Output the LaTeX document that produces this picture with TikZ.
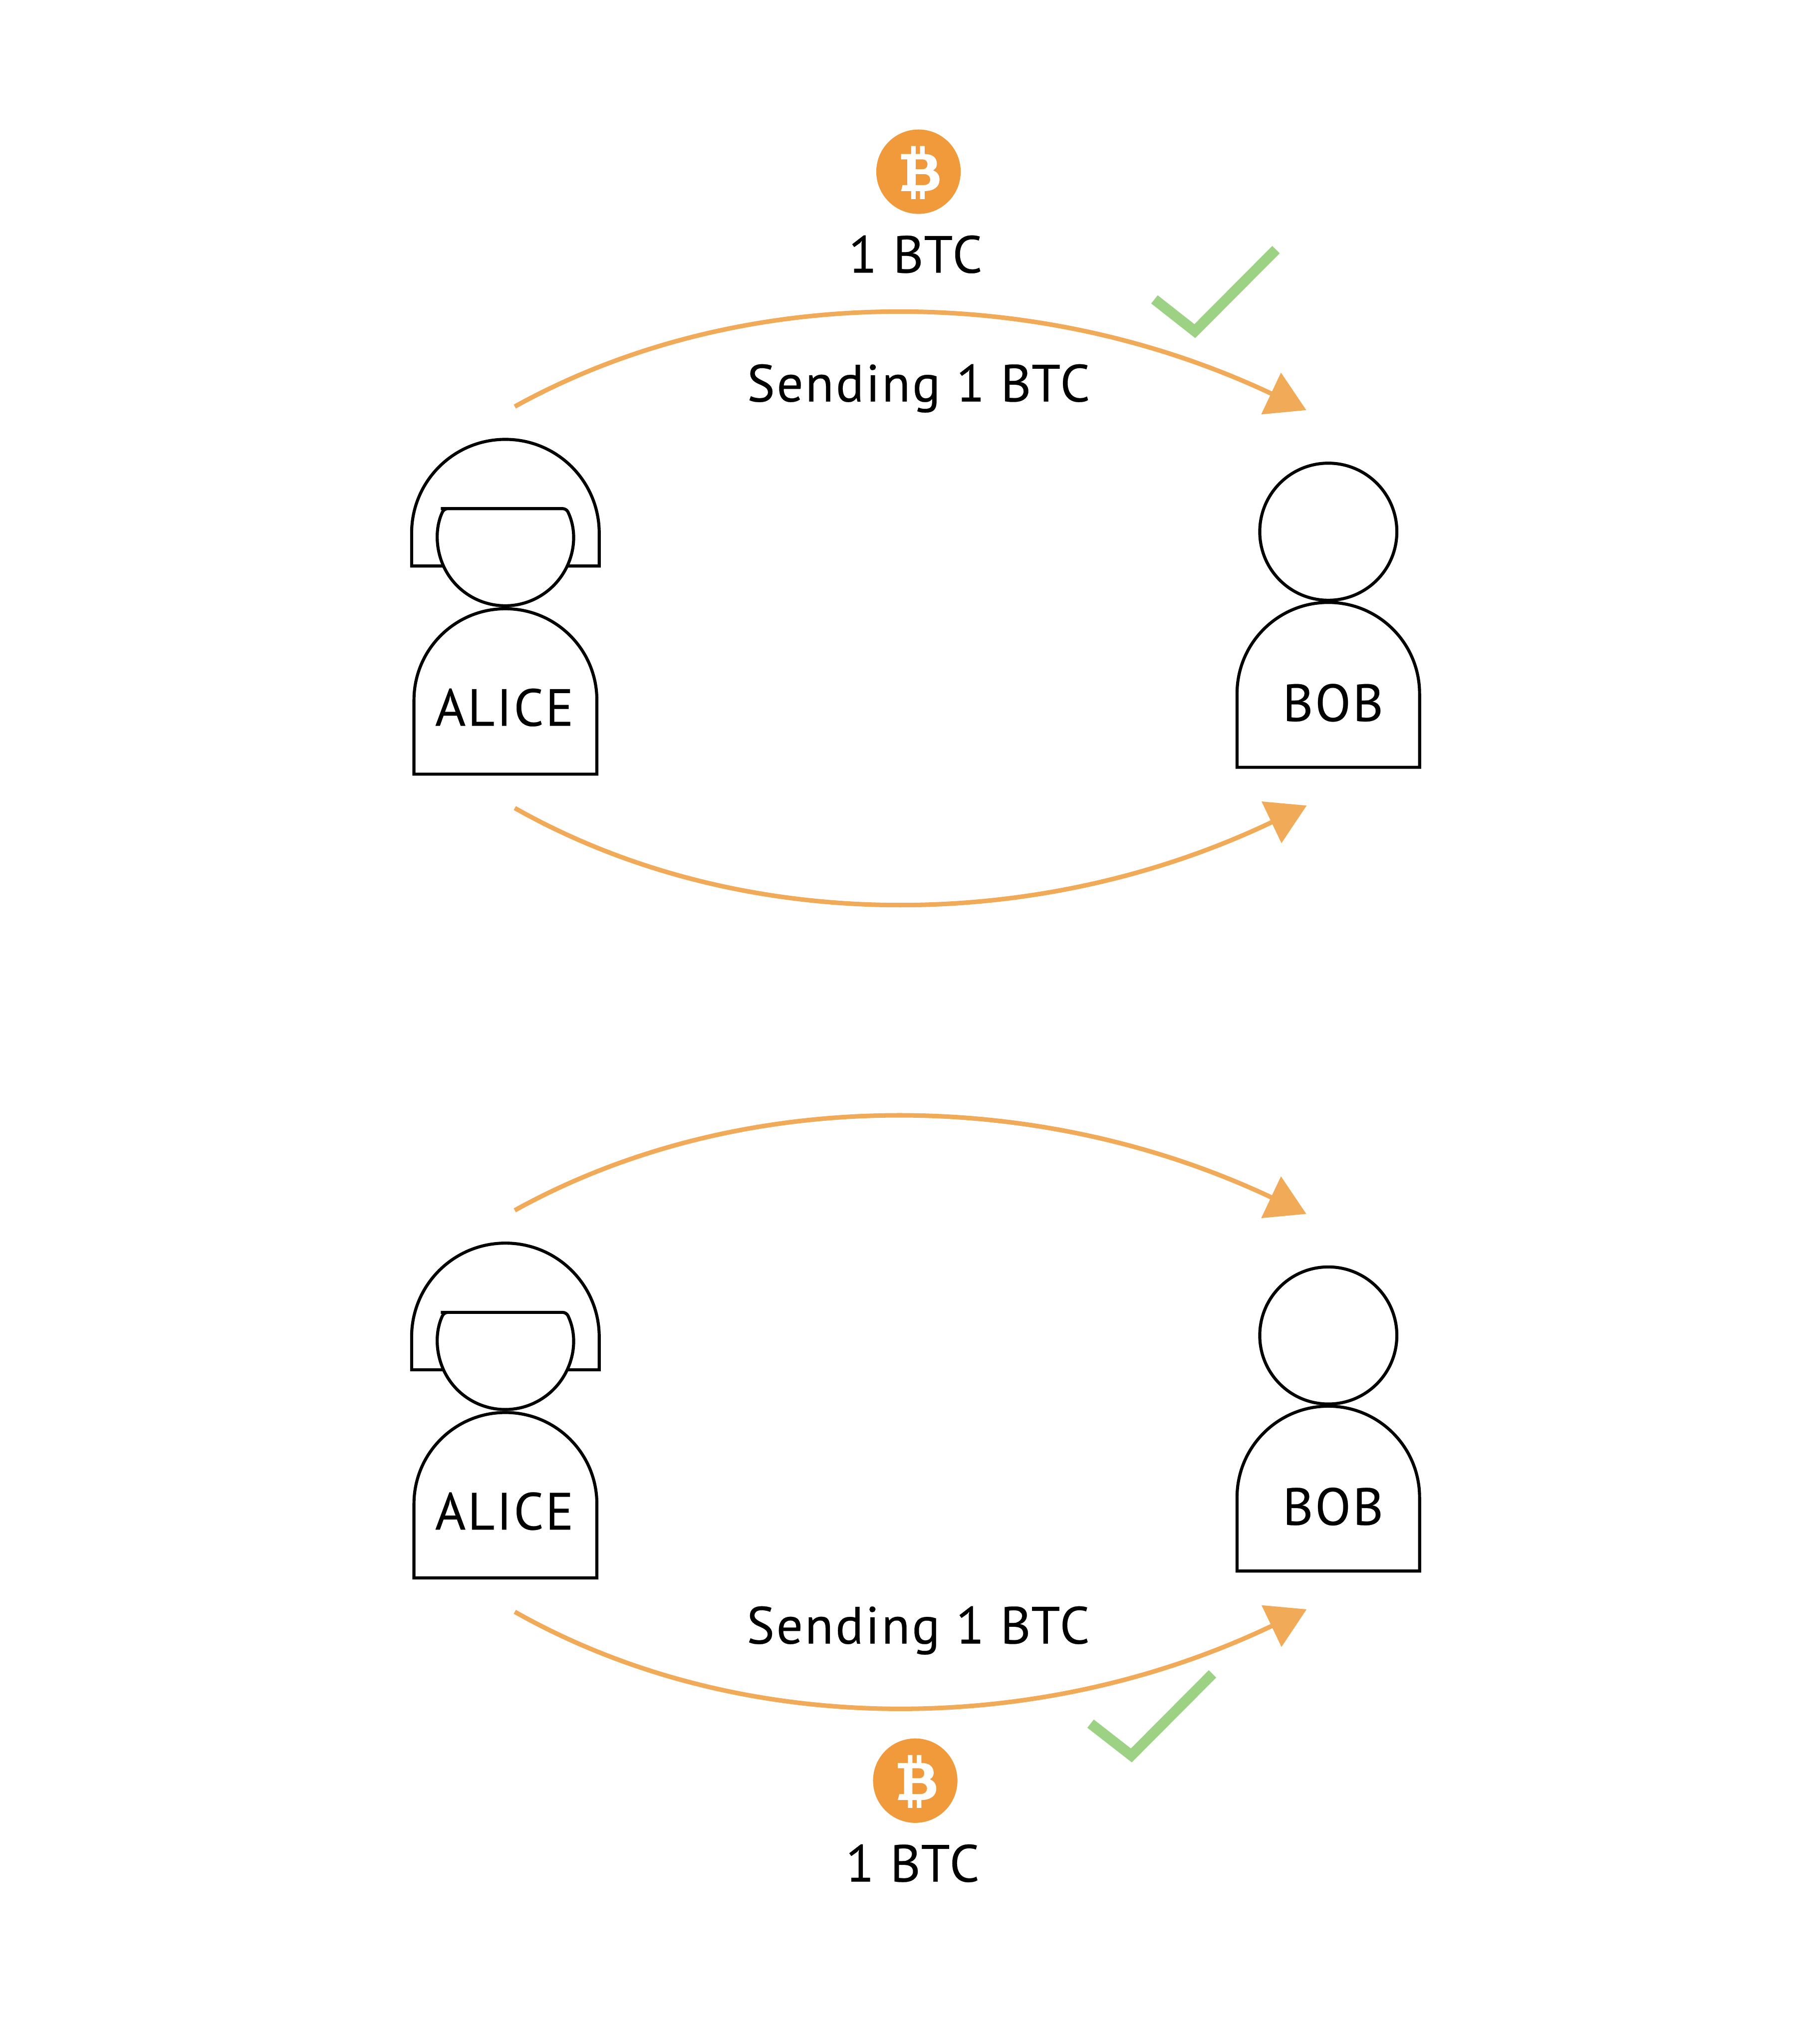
\documentclass[tikz,border=0pt]{standalone}
\usepackage{fontspec}
\setmainfont[LetterSpace=3.6,FakeBold=0.25]{PT Sans}
\usetikzlibrary{arrows.meta}
\definecolor{flowcol}{HTML}{F0AA58}
\definecolor{coincol}{HTML}{F09A3C}
\definecolor{tickcol}{HTML}{9DD285}
\tikzset{
    outline/.style={draw=black,line width=0.085cm,fill=white},
    flow/.style={draw=flowcol,line width=0.125cm,-{Triangle[length=1.08cm,width=1.25cm,fill=flowcol]}},
    tick/.style={draw=tickcol,line width=0.29cm,miter limit=10},
    btclabel/.style={font=\fontsize{41.3}{50}\selectfont,anchor=base,inner sep=0pt},
    alicefig/.pic={
        \draw[outline] (-2.535,0) -- (-2.535,2.05) arc[start angle=180,end angle=0,radius=2.535] -- (2.535,0) -- cycle;
        \draw[outline] (-2.6,5.77) -- (-2.6,6.68) arc[start angle=180,end angle=0,radius=2.6] -- (2.6,5.77) -- cycle;
        \draw[outline,rounded corners=0.1cm] (-1.69,7.36) -- (1.69,7.36) arc[start angle=25.6,end angle=-205.6,radius=1.88] -- cycle;
        \node[btclabel] (-name) at (-0.03,1.34) {ALICE};
    },
    bobfig/.pic={
        \draw[outline] (-2.53,0) -- (-2.53,2.04) arc[start angle=180,end angle=0,radius=2.53] -- (2.53,0) -- cycle;
        \draw[outline] (0,6.53) circle (1.9);
        \node[btclabel] (-name) at (0.13,1.28) {BOB};
    },
    coinfig/.pic={
        \fill[coincol] (0,0) circle (1.17);
        \fill[white,even odd rule]
            (-.483,.49) -- (-.203,.49) -- (-.203,.71) -- (-.08,.71) -- (-.08,.49) -- (.043,.49) -- (.043,.71) -- (.17,.71) -- (.17,.49)
            .. controls (.4,.49) and (.51,.38) .. (.51,.213)
            .. controls (.51,.13) and (.47,.08) .. (.403,.037)
            .. controls (.51,0) and (.583,-.09) .. (.583,-.22)
            .. controls (.583,-.42) and (.42,-.537) .. (.17,-.537)
            -- (.17,-.757) -- (.043,-.757) -- (.043,-.537) -- (-.08,-.537) -- (-.08,-.757) -- (-.203,-.757) -- (-.203,-.537)
            -- (-.483,-.537) -- (-.44,-.37) -- (-.31,-.37) -- (-.31,.343) -- (-.483,.343) -- cycle
            (-.08,.343) -- (.11,.343) .. controls (.2,.343) and (.25,.29) .. (.25,.205) .. controls (.25,.12) and (.2,.067) .. (.11,.067) -- (-.08,.067) -- cycle
            (-.08,-.067) -- (.16,-.067) .. controls (.26,-.067) and (.327,-.13) .. (.327,-.22) .. controls (.327,-.31) and (.26,-.37) .. (.16,-.37) -- (-.08,-.37) -- cycle;
    }
}

\begin{document}
\begin{tikzpicture}
    \useasboundingbox (0,0) rectangle (50,56.66);

    % Top panel
    \pic (aliceTop) at (14.01,35.20) {alicefig};
    \pic (bobTop) at (36.82,35.39) {bobfig};
    \pic (coinTop) at (25.46,51.90) {coinfig};
    \node[btclabel] (amountTop) at (25.375,49.10) {1 BTC};
    \node[btclabel] (sendTop) at (25.46,45.53) {Sending 1 BTC};

    \coordinate (aliceTopOut) at (14.27,45.39);
    \coordinate (bobTopIn) at (36.21,45.29);
    \coordinate (aliceTopBack) at (14.27,34.26);
    \coordinate (bobTopBack) at (36.22,34.33);
    \draw[flow] (aliceTopOut) .. controls (20.5,48.84) and (28.7,48.84) .. (bobTopIn);
    \draw[flow] (aliceTopBack) .. controls (20.5,30.74) and (28.7,30.74) .. (bobTopBack);

    \coordinate (tickTopA) at (32.00,48.36);
    \coordinate (tickTopB) at (33.12,47.48);
    \coordinate (tickTopC) at (35.37,49.74);
    \draw[tick] (tickTopA) -- (tickTopB) -- (tickTopC);

    % Bottom panel
    \pic (aliceBot) at (14.01,12.92) {alicefig};
    \pic (bobBot) at (36.82,13.11) {bobfig};
    \pic (coinBot) at (25.37,7.30) {coinfig};
    \node[btclabel] (amountBot) at (25.295,4.50) {1 BTC};
    \node[btclabel] (sendBot) at (25.45,11.10) {Sending 1 BTC};

    \coordinate (aliceBotOut) at (14.27,23.11);
    \coordinate (bobBotIn) at (36.21,23.01);
    \coordinate (aliceBotBack) at (14.27,11.98);
    \coordinate (bobBotBack) at (36.22,12.05);
    \draw[flow] (aliceBotOut) .. controls (20.5,26.56) and (28.7,26.56) .. (bobBotIn);
    \draw[flow] (aliceBotBack) .. controls (20.5,8.46) and (28.7,8.46) .. (bobBotBack);

    \coordinate (tickBotA) at (30.23,8.88);
    \coordinate (tickBotB) at (31.36,8.00);
    \coordinate (tickBotC) at (33.61,10.26);
    \draw[tick] (tickBotA) -- (tickBotB) -- (tickBotC);
\end{tikzpicture}
\end{document}
